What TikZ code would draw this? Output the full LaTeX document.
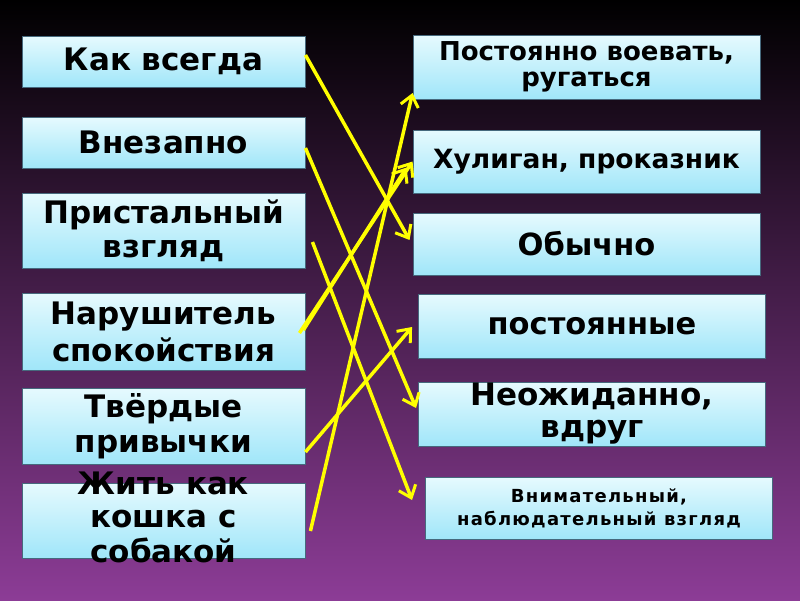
\documentclass[tikz,border=0pt]{standalone}
\usepackage{fontspec}
\setmainfont{DejaVu Sans}
\usetikzlibrary{arrows.meta,calc}
\definecolor{bgtop}{RGB}{0,0,0}
\definecolor{bgmid}{RGB}{72,28,82}
\definecolor{bgbot}{RGB}{140,60,150}
\definecolor{boxtop}{RGB}{230,250,254}
\definecolor{boxbot}{RGB}{160,230,249}
\definecolor{boxline}{RGB}{70,105,125}
\definecolor{arr}{RGB}{255,255,0}
\tikzset{
  card/.style={draw=boxline, line width=0.9pt, top color=boxtop, bottom color=boxbot,
    rectangle, inner sep=0pt, align=center, text=black, font=\bfseries},
  lcard/.style={card, minimum width=283pt},
  rcard/.style={card, minimum width=347pt},
  link/.style={draw=arr, line width=3.5pt, -{Straight Barb[length=11pt,width=18pt,line width=3pt]}}
}
\begin{document}
\begin{tikzpicture}[x=1pt,y=-1pt]
\useasboundingbox (0,0) rectangle (800,600);
\fill[top color=bgtop, middle color=bgmid, bottom color=bgbot] (0,0) rectangle (800,600);

% left column
\node[lcard, minimum height=51pt, font=\bfseries\fontsize{31}{36}\selectfont] (n1) at (163.5,61.5) {Как всегда};
\node[lcard, minimum height=51pt, font=\bfseries\fontsize{31}{36}\selectfont] (n2) at (163.5,142.5) {Внезапно};
\node[lcard, minimum height=75pt, font=\bfseries\fontsize{31}{34}\selectfont] (n3) at (163.5,230.5) {Пристальный\\взгляд};
\node[lcard, minimum height=77pt, font=\bfseries\fontsize{31}{37}\selectfont] (n4) at (163.5,331.5) {Нарушитель\\спокойствия};
\node[lcard, minimum height=76pt, font=\bfseries\fontsize{31}{35}\selectfont] (n5) at (163.5,426) {Твёрдые\\привычки};
\node[lcard, minimum height=75pt, font=\bfseries\fontsize{31}{33}\selectfont] (n6) at (163.5,520.5)
  {\smash{\raisebox{-0.25em}{\begin{tabular}[c]{@{}c@{}}Жить как\\кошка с\\собакой\end{tabular}}}};

% right column
\node[rcard, minimum height=64pt, font=\bfseries\fontsize{26}{26}\selectfont] (r1) at (586.5,67) {Постоянно воевать,\\ругаться};
\node[rcard, minimum height=63pt, font=\bfseries\fontsize{26.5}{30}\selectfont] (r2) at (586.5,161.5) {Хулиган, проказник};
\node[rcard, minimum height=62pt, font=\bfseries\fontsize{30.5}{34}\selectfont] (r3) at (586.5,244) {Обычно};
\node[rcard, minimum height=64pt, font=\bfseries\fontsize{30.5}{34}\selectfont] (r4) at (592,326) {постоянные};
\node[rcard, minimum height=64pt, font=\bfseries\fontsize{31}{32}\selectfont] (r5) at (592,414) {Неожиданно,\\вдруг};
\node[rcard, minimum height=62pt, font=\bfseries\fontsize{18}{23}\selectfont\addfontfeature{LetterSpace=7}] (r6) at (599,508) {Внимательный,\\наблюдательный взгляд};

% connectors
\draw[link] ([yshift=6.5pt]n1.east) -- ([xshift=-3pt,yshift=4pt]r3.west);
\draw[link] ([yshift=-5.5pt]n2.east) -- ([xshift=-2pt,yshift=6pt]r5.west);
\draw[link] ([xshift=7pt,yshift=-11.5pt]n3.east) -- ([xshift=-13pt,yshift=8pt]r6.west);
\draw[link] ([xshift=-6pt,yshift=-1.5pt]n4.east) -- ([xshift=0pt,yshift=0pt]r2.west);
\draw[link] ([xshift=-2pt,yshift=1.5pt]n4.east) -- ([xshift=-6pt,yshift=-6pt]r2.west);
\draw[link] ([yshift=-26pt]n5.east) -- ([xshift=-6pt,yshift=-1pt]r4.west);
\draw[link] ([xshift=5pt,yshift=-10.5pt]n6.east) -- ([yshift=-26pt]r1.west);
\end{tikzpicture}
\end{document}
